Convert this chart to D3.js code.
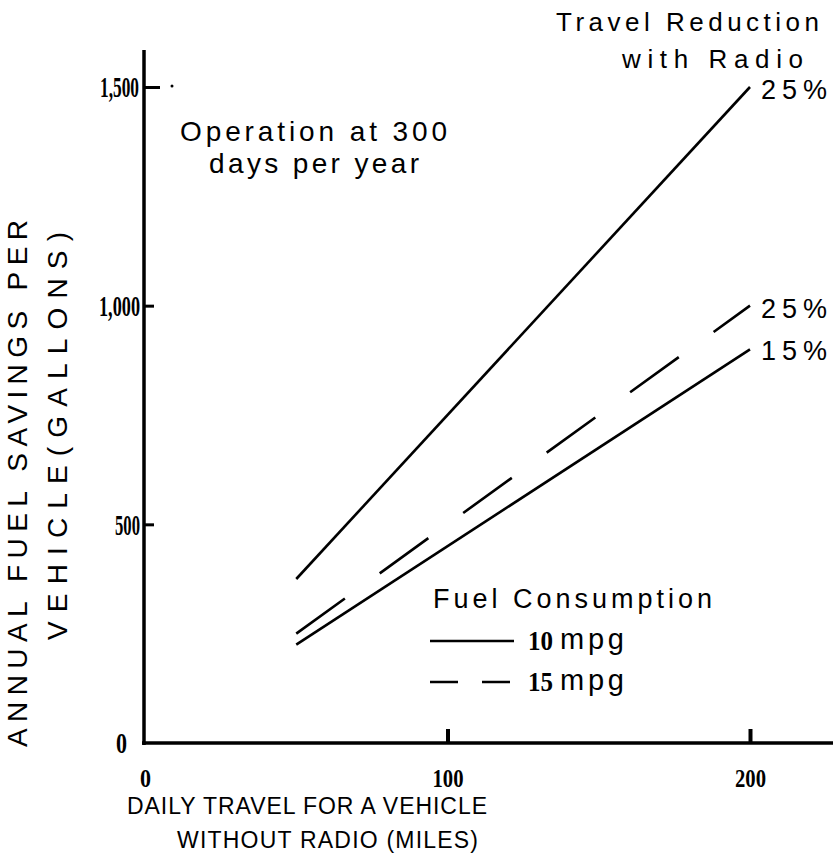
<!DOCTYPE html>
<html>
<head>
<meta charset="utf-8">
<script src="https://cdn.jsdelivr.net/npm/d3@7"></script>
<style>
  html, body { margin: 0; padding: 0; background: #fff; }
  svg { display: block; }
  .lbl { font-family: "Liberation Sans", Arial, sans-serif; fill: #000; }
  .num { font-family: "Liberation Serif", "Times New Roman", serif; font-weight: bold; fill: #000; }
</style>
</head>
<body>
<svg id="chart" width="833" height="856"></svg>
<script>
// ---- data ----
const travelMiles = [50, 200];
const series = [
  { name: "25%", mpg: 10, values: [375, 1500] },
  { name: "25%", mpg: 15, values: [250, 1000] },
  { name: "15%", mpg: 10, values: [225, 900] }
];
const yTicks = [0, 500, 1000, 1500];
const yTickLabels = ["0", "500", "1,000", "1,500"];
const xTicks = [0, 100, 200];
const xTickLabels = ["0", "100", "200"];
const legendItems = [{ label: "10", mpg: 10 }, { label: "15", mpg: 15 }];

// ---- layout ----
const svg = d3.select("#chart");
const x = d3.scaleLinear().domain([0, 200]).range([145, 750]);
const y = d3.scaleLinear().domain([0, 1500]).range([743, 87]);
const dashFor = mpg => mpg === 15 ? "60,43" : null;

function txt(s, cls, xx, yy, size, len, opts = {}) {
  const t = svg.append("text").attr("class", cls)
    .attr("x", xx).attr("y", yy)
    .attr("font-size", size)
    .text(s);
  if (len) t.attr("textLength", len).attr("lengthAdjust", opts.adjust || "spacing");
  if (opts.transform) t.attr("transform", opts.transform);
  if (opts.anchor) t.attr("text-anchor", opts.anchor);
  return t;
}

// ---- axes ----
const yAxis = d3.axisLeft(y).tickValues(yTicks).tickSize(-10).tickFormat((d, i) => yTickLabels[i]);
const gy = svg.append("g").attr("transform", "translate(144,0)").call(yAxis);
gy.select(".domain").remove();
gy.selectAll(".tick line").attr("stroke", "#000").attr("stroke-width", 3).attr("x2", d => d === 0 ? 0 : (d === 1500 ? 16 : 10));
gy.selectAll(".tick text").attr("class", "num").attr("font-size", 30)
  .attr("x", (d, i) => [-17, -4, -4, -5][i])
  .attr("dy", "0.33em")
  .attr("textLength", (d, i) => [11, 25, 41, 39][i]).attr("lengthAdjust", "spacingAndGlyphs");
svg.append("line").attr("x1", 144).attr("x2", 144).attr("y1", 50).attr("y2", 745)
  .attr("stroke", "#000").attr("stroke-width", 3.5);
svg.append("circle").attr("cx", 172).attr("cy", y(1500) - 1).attr("r", 1.5).attr("fill", "#000");

const xAxis = d3.axisBottom(x).tickValues(xTicks).tickSize(-14).tickFormat((d, i) => xTickLabels[i]);
const gx = svg.append("g").attr("transform", "translate(0,743)").call(xAxis);
gx.select(".domain").remove();
gx.selectAll(".tick line").attr("stroke", "#000").attr("stroke-width", 4).attr("y2", d => d === 0 ? 0 : -14);
gx.selectAll(".tick text").attr("class", "num").attr("font-size", 26).attr("y", 44).attr("dy", 0)
  .attr("textLength", (d, i) => [11, 31, 31][i]).attr("lengthAdjust", "spacingAndGlyphs");
svg.append("line").attr("x1", 142).attr("x2", 833).attr("y1", 743).attr("y2", 743)
  .attr("stroke", "#000").attr("stroke-width", 3.5);

// ---- series lines ----
const line = d3.line().x((d, i) => x(travelMiles[i])).y(d => y(d));
svg.selectAll("path.series").data(series).enter().append("path")
  .attr("class", "series")
  .attr("d", d => line(d.values))
  .attr("fill", "none").attr("stroke", "#000").attr("stroke-width", 2.6)
  .attr("stroke-dasharray", d => dashFor(d.mpg));

// ---- series end labels ----
const endY = [99, 318, 360];
series.forEach((s, i) => txt(s.name, "lbl", 761, endY[i], 27, 66));

txt("Travel Reduction", "lbl", 556, 31, 26, 263);
txt("with Radio", "lbl", 622, 68, 26, 181);

txt("Operation at 300", "lbl", 180, 141, 28, 267);
txt("days per year", "lbl", 209, 173, 28, 210);

// ---- legend ----
txt("Fuel Consumption", "lbl", 433, 608, 27, 279);
legendItems.forEach((it, i) => {
  const ly = 641 + i * 41;
  svg.append("line").attr("x1", 430).attr("x2", 514).attr("y1", ly).attr("y2", ly)
    .attr("stroke", "#000").attr("stroke-width", 2.6)
    .attr("stroke-dasharray", it.mpg === 15 ? "28,24" : null);
  txt(it.label, "num", 528, ly + 9, 28, 25, { adjust: "spacingAndGlyphs" });
  txt("mpg", "lbl", 560, ly + 8, 29, 64);
});

// ---- axis titles ----
txt("DAILY TRAVEL FOR A VEHICLE", "lbl", 127, 814, 23, 360);
txt("WITHOUT  RADIO (MILES)", "lbl", 177, 848, 23, 301);
txt("ANNUAL FUEL SAVINGS PER", "lbl", 0, 0, 28, 527, { transform: "translate(27,747) rotate(-90)" });
txt("VEHICLE(GALLONS)", "lbl", 0, 0, 28, 408, { transform: "translate(67,640) rotate(-90)" });
</script>
</body>
</html>
